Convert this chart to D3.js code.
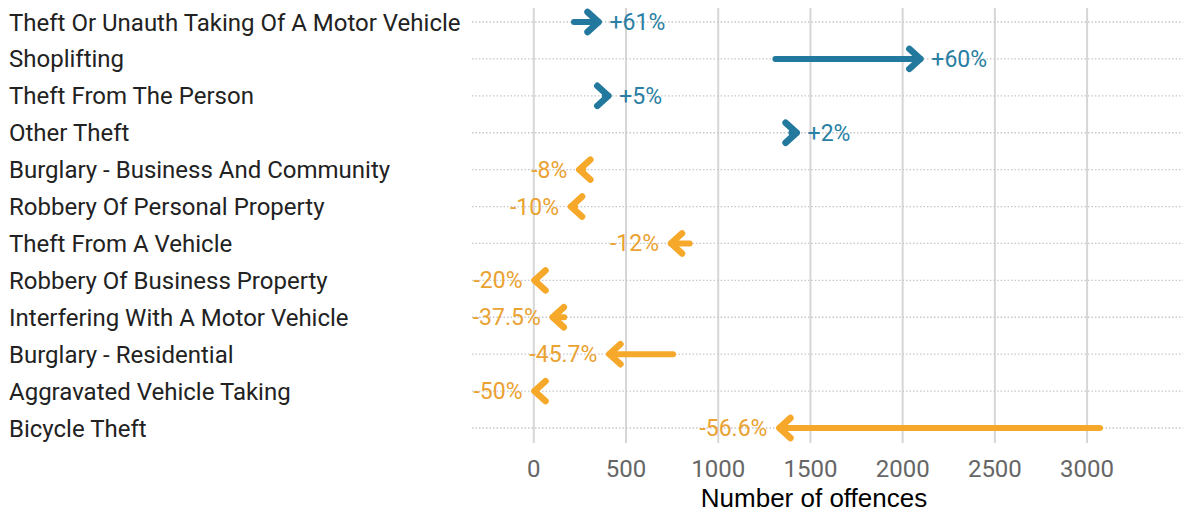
<!DOCTYPE html>
<html>
<head>
<meta charset="utf-8">
<script src="https://cdn.jsdelivr.net/npm/d3@7"></script>
<style>
    body { margin: 0; background: #fff; }
    svg { display: block; font-family: Roboto, sans-serif; }
    .cat_label { font-size: 24px; fill: #222; }
    .tick_label { font-size: 24px; fill: #666; }
    .pct_label { font-size: 23px; }
</style>
</head>
<body>
<div id="chart"></div>
<script>
//绘图尺寸
const width = 1184;
const height = 513;

//数据
var categories = [
    "Theft Or Unauth Taking Of A Motor Vehicle",
    "Shoplifting",
    "Theft From The Person",
    "Other Theft",
    "Burglary - Business And Community",
    "Robbery Of Personal Property",
    "Theft From A Vehicle",
    "Robbery Of Business Property",
    "Interfering With A Motor Vehicle",
    "Burglary - Residential",
    "Aggravated Vehicle Taking",
    "Bicycle Theft"
];
var before = [218, 1310, 385, 1397, 268, 224, 845, 5, 165, 755, 8, 3070];
var after = [351, 2096, 404, 1425, 247, 202, 744, 4, 103, 410, 4, 1332];
var pct_labels = ["+61%", "+60%", "+5%", "+2%", "-8%", "-10%", "-12%", "-20%",
    "-37.5%", "-45.7%", "-50%", "-56.6%"];
var x_ticks = [0, 500, 1000, 1500, 2000, 2500, 3000];
var x_title = "Number of offences";

const up_color = "#22789d";
const down_color = "#f5a82a";

var rows = categories.map(function (c, i) {
    return {cat: c, from: before[i], to: after[i], label: pct_labels[i]};
});

var svg = d3.select("#chart").append("svg")
    .attr("width", width).attr("height", height);

var x = d3.scaleLinear().domain([-335, 3520]).range([472, 1183]);
var y = d3.scalePoint().domain(categories).range([22, 428]);

//竖向网格线
svg.append("g").selectAll("line")
    .data(x_ticks)
    .enter()
    .append("line")
    .attr("x1", d => x(d)).attr("x2", d => x(d))
    .attr("y1", 8).attr("y2", 443)
    .attr("stroke", "#d6d6d6")
    .attr("stroke-width", 2);

//横向虚线
svg.append("g").selectAll("line")
    .data(categories)
    .enter()
    .append("line")
    .attr("x1", x.range()[0]).attr("x2", x.range()[1])
    .attr("y1", d => y(d)).attr("y2", d => y(d))
    .attr("stroke", "#c8c8c8")
    .attr("stroke-width", 1.3)
    .attr("stroke-dasharray", "1.5,2");

//坐标轴刻度
svg.append("g").selectAll("text")
    .data(x_ticks)
    .enter()
    .append("text")
    .attr("class", "tick_label")
    .attr("x", d => x(d))
    .attr("y", 477)
    .attr("text-anchor", "middle")
    .text(d => d);

svg.append("text")
    .attr("x", 814)
    .attr("y", 507)
    .attr("text-anchor", "middle")
    .style("font-family", "'Liberation Sans', Arial, sans-serif")
    .style("font-size", "26px")
    .attr("fill", "#000")
    .text(x_title);

//类别标签
svg.append("g").selectAll("text")
    .data(categories)
    .enter()
    .append("text")
    .attr("class", "cat_label")
    .attr("x", 9)
    .attr("y", d => y(d) + 8.5)
    .text(d => d);

//箭头
var arrows = svg.append("g").selectAll("g")
    .data(rows)
    .enter()
    .append("g");

function arrow_color(d) {
    return d.to >= d.from ? up_color : down_color;
}

arrows.append("line")
    .attr("x1", d => x(d.from))
    .attr("x2", d => x(d.to))
    .attr("y1", d => y(d.cat))
    .attr("y2", d => y(d.cat))
    .attr("stroke", arrow_color)
    .attr("stroke-width", 6)
    .attr("stroke-linecap", "round");

arrows.append("path")
    .attr("d", function (d) {
        var tx = x(d.to), ty = y(d.cat);
        var dir = d.to >= d.from ? 1 : -1;
        return "M" + (tx - dir * 11) + "," + (ty - 10) +
            "L" + tx + "," + ty +
            "L" + (tx - dir * 11) + "," + (ty + 10);
    })
    .attr("fill", "none")
    .attr("stroke", arrow_color)
    .attr("stroke-width", 6.5)
    .attr("stroke-linecap", "round")
    .attr("stroke-linejoin", "round");

arrows.append("text")
    .attr("class", "pct_label")
    .attr("x", function (d) {
        return d.to >= d.from ? x(d.to) + 11 : x(d.to) - 12;
    })
    .attr("y", d => y(d.cat) + 8)
    .attr("text-anchor", d => d.to >= d.from ? "start" : "end")
    .attr("fill", d => d.to >= d.from ? "#2a7fa4" : "#eaa232")
    .text(d => d.label);
</script>
</body>
</html>
